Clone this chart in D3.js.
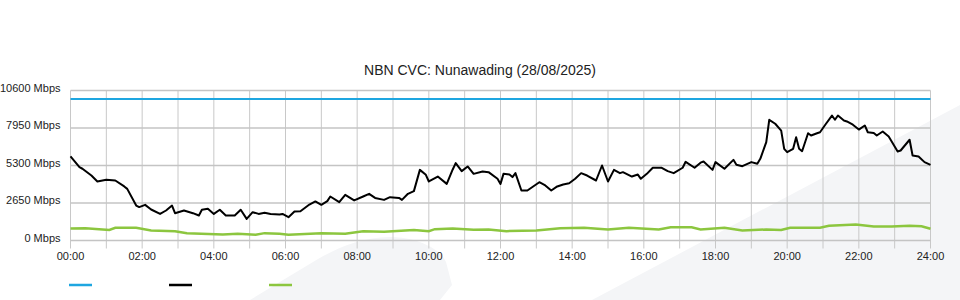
<!DOCTYPE html>
<html>
<head>
<meta charset="utf-8">
<script src="https://cdn.jsdelivr.net/npm/d3@7"></script>
<style>
  html, body { margin: 0; padding: 0; background: #fff; }
  svg { display: block; font-family: "Liberation Sans", Arial, sans-serif; }
</style>
</head>
<body>
<div id="cvcChart"></div>
<script>
// ---------NBN CVC usage----------

// Data
const chartTitle = "NBN CVC: Nunawading (28/08/2025)";
const yTickValues = [0, 2650, 5300, 7950, 10600];
const xTickLabels = ["00:00", "02:00", "04:00", "06:00", "08:00", "10:00", "12:00", "14:00", "16:00", "18:00", "20:00", "22:00", "24:00"];

const capacityMbps = 10000;

const trafficTimes = ["00:00", "00:15", "00:20", "00:35", "00:45", "01:00", "01:15", "01:30", "01:35", "01:50", "01:55", "02:05", "02:15", "02:30", "02:40", "02:50", "02:55", "03:10", "03:25", "03:35", "03:40", "03:50", "04:00", "04:10", "04:20", "04:35", "04:45", "04:55", "05:05", "05:15", "05:25", "05:35", "05:50", "05:55", "06:05", "06:15", "06:25", "06:40", "06:50", "07:00", "07:10", "07:15", "07:30", "07:40", "07:55", "08:10", "08:20", "08:30", "08:45", "08:55", "09:10", "09:15", "09:25", "09:35", "09:45", "09:55", "10:00", "10:15", "10:30", "10:40", "10:45", "10:55", "11:05", "11:15", "11:30", "11:40", "11:55", "12:00", "12:05", "12:15", "12:20", "12:25", "12:35", "12:45", "13:05", "13:15", "13:25", "13:35", "13:45", "13:55", "14:05", "14:15", "14:25", "14:40", "14:50", "15:00", "15:10", "15:20", "15:25", "15:40", "15:50", "15:55", "16:05", "16:15", "16:30", "16:40", "16:50", "17:05", "17:10", "17:25", "17:35", "17:40", "17:55", "18:00", "18:15", "18:30", "18:35", "18:45", "19:00", "19:10", "19:15", "19:25", "19:30", "19:40", "19:50", "19:55", "20:00", "20:10", "20:15", "20:20", "20:25", "20:35", "20:40", "20:50", "20:55", "21:05", "21:15", "21:20", "21:25", "21:35", "21:40", "21:50", "22:00", "22:10", "22:15", "22:25", "22:30", "22:40", "22:50", "23:05", "23:10", "23:25", "23:30", "23:40", "23:50", "24:00"];
const trafficMbps = [5940, 5180, 5070, 4590, 4170, 4290, 4240, 3820, 3650, 2470, 2360, 2520, 2190, 1880, 2120, 2470, 1930, 2120, 1930, 1770, 2170, 2240, 1880, 2170, 1770, 1770, 2170, 1530, 2000, 1880, 1960, 1880, 1840, 1880, 1650, 2050, 2070, 2540, 2760, 2520, 2780, 3110, 2710, 3230, 2830, 3110, 3300, 3010, 2870, 3060, 3010, 2870, 3300, 3490, 4990, 4640, 4170, 4520, 4000, 5020, 5470, 4900, 5230, 4710, 4880, 4830, 4360, 4000, 4710, 4660, 4480, 4760, 3530, 3530, 4120, 3890, 3530, 3820, 3960, 4050, 4360, 4760, 4590, 4240, 5300, 4170, 4990, 4760, 4830, 4520, 4660, 4360, 4710, 5140, 5140, 4900, 4760, 5140, 5560, 5140, 5500, 5580, 4990, 5540, 5070, 5700, 5350, 5250, 5540, 5420, 5770, 6950, 8530, 8250, 7770, 6480, 6240, 6480, 7300, 6480, 6310, 7580, 7420, 7580, 7650, 8250, 8830, 8530, 8830, 8480, 8410, 8180, 7840, 8130, 7650, 7600, 7420, 7700, 7350, 6290, 6360, 7120, 6010, 5940, 5540, 5350];

const uploadTimes = ["00:00", "00:25", "01:05", "01:15", "01:50", "02:15", "02:55", "03:15", "04:15", "04:40", "05:10", "05:25", "05:50", "06:05", "07:00", "07:40", "08:10", "08:45", "09:35", "10:00", "10:10", "10:40", "11:15", "11:40", "12:10", "13:00", "13:40", "14:20", "15:00", "15:35", "16:25", "16:45", "17:20", "17:35", "18:15", "18:45", "19:25", "19:50", "20:05", "20:55", "21:10", "21:55", "22:25", "22:55", "23:25", "23:45", "24:00"];
const uploadMbps = [850, 870, 750, 900, 900, 710, 660, 520, 420, 470, 400, 520, 470, 400, 520, 470, 660, 610, 750, 660, 800, 850, 760, 780, 660, 710, 870, 900, 780, 900, 780, 940, 940, 780, 900, 710, 780, 750, 900, 900, 1040, 1130, 990, 990, 1040, 1010, 830];

// Dimensions
const width = 960;
const height = 300;
const plot = { left: 70.5, right: 930.5, top: 90.5, bottom: 240.5 };

// turn "HH:MM" into minutes
const toMinutes = t => +t.slice(0, 2) * 60 + +t.slice(3, 5);

// Append SVG
const svg = d3
  .select("#cvcChart")
  .append("svg")
  .attr("width", width)
  .attr("height", height);

// light background shapes
svg.append("path")
  .attr("d", "M250,300 L318,259 C345,243 380,231 414,240 Q440,248 446,262 L452,285 L440,300 Z")
  .attr("fill", "#f4f5f7");

svg.append("path")
  .attr("d", "M592,300 L960,105 L960,300 Z")
  .attr("fill", "#f4f5f7");

// Scales
const xScale = d3.scaleLinear()
  .domain([0, 24 * 60])
  .range([plot.left, plot.right]);

const yScale = d3.scaleLinear()
  .domain([0, 10600])
  .range([plot.bottom, plot.top]);

// x grid + labels (a line every hour, label every 2 hours)
const xAxis = svg.append("g")
  .attr("transform", `translate(0, ${plot.bottom + 8})`)
  .call(d3.axisBottom(xScale)
    .offset(0)
    .tickValues(d3.range(0, 24 * 60 + 1, 60))
    .tickSize(-(plot.bottom + 8 - plot.top))
    .tickPadding(4)
    .tickFormat(d => xTickLabels.includes(d3.format("02")(d / 60) + ":00") ? d3.format("02")(d / 60) + ":00" : ""));

xAxis.select(".domain").remove();
xAxis.selectAll("line").attr("stroke", "#c8c8c8");
xAxis.selectAll("text")
  .style("font-size", "11px")
  .style("fill", "#222");

// y grid + labels
const yAxis = svg.append("g")
  .attr("transform", `translate(${plot.left}, 0)`)
  .call(d3.axisLeft(yScale)
    .offset(0)
    .tickValues(yTickValues)
    .tickSize(-(plot.right - plot.left))
    .tickPadding(10)
    .tickFormat(d => d + " Mbps"));

yAxis.select(".domain").remove();
yAxis.selectAll("line").attr("stroke", "#c4c4c4").attr("stroke-width", 1.3);
yAxis.selectAll("text")
  .attr("dy", "0.12em")
  .style("font-size", "11px")
  .style("fill", "#222");

// Lines
const line = d3.line()
  .x(d => xScale(d.t))
  .y(d => yScale(d.v));

const capacityData = [{ t: 0, v: capacityMbps }, { t: 24 * 60, v: capacityMbps }];
const trafficData = trafficTimes.map((t, i) => ({ t: toMinutes(t), v: trafficMbps[i] }));
const uploadData = uploadTimes.map((t, i) => ({ t: toMinutes(t), v: uploadMbps[i] }));

svg.append("path")
  .datum(uploadData)
  .attr("d", line)
  .attr("fill", "none")
  .attr("stroke", "#8cc63f")
  .attr("stroke-width", 2.5);

svg.append("path")
  .datum(capacityData)
  .attr("d", line)
  .attr("fill", "none")
  .attr("stroke", "#1ea6e0")
  .attr("stroke-width", 2.2);

svg.append("path")
  .datum(trafficData)
  .attr("d", line)
  .attr("fill", "none")
  .attr("stroke", "#000")
  .attr("stroke-width", 2)
  .attr("stroke-linejoin", "round");

// Title
svg.append("text")
  .attr("x", width / 2)
  .attr("y", 75)
  .attr("text-anchor", "middle")
  .style("font-size", "14px")
  .style("fill", "#222")
  .text(chartTitle);

// Legend (swatches only)
const legendColors = ["#1ea6e0", "#000", "#8cc63f"];
svg.selectAll(".legend")
  .data(legendColors)
  .enter()
  .append("line")
  .attr("class", "legend")
  .attr("x1", (d, i) => 69 + i * 100)
  .attr("x2", (d, i) => 92 + i * 100)
  .attr("y1", 285)
  .attr("y2", 285)
  .attr("stroke", d => d)
  .attr("stroke-width", 2.5);
</script>
</body>
</html>
